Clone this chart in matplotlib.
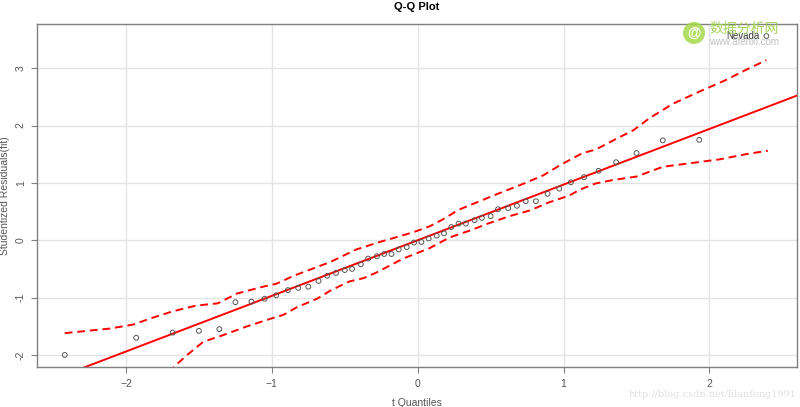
import numpy as np
import matplotlib.pyplot as plt
from matplotlib.patches import Ellipse

# t quantiles (x) and studentized residuals (y)
t_quant = [-2.42, -1.93, -1.68, -1.50, -1.36, -1.25, -1.14, -1.05, -0.97, -0.89,
           -0.82, -0.75, -0.68, -0.62, -0.56, -0.50, -0.45, -0.39, -0.34, -0.28,
           -0.23, -0.18, -0.13, -0.075, -0.025, 0.025, 0.075, 0.13, 0.18, 0.23,
           0.28, 0.33, 0.39, 0.44, 0.50, 0.55, 0.62, 0.68, 0.74, 0.81,
           0.89, 0.97, 1.05, 1.14, 1.24, 1.36, 1.50, 1.68, 1.93, 2.39]
stud_res = [-2.00, -1.70, -1.61, -1.58, -1.55, -1.08, -1.07, -1.02, -0.96, -0.87,
            -0.83, -0.81, -0.71, -0.62, -0.57, -0.52, -0.50, -0.42, -0.32, -0.28,
            -0.24, -0.24, -0.16, -0.12, -0.04, -0.03, 0.03, 0.08, 0.12, 0.23,
            0.29, 0.29, 0.35, 0.39, 0.42, 0.54, 0.56, 0.60, 0.68, 0.68,
            0.81, 0.90, 1.01, 1.10, 1.21, 1.36, 1.52, 1.74, 1.75, 3.56]

# simulated confidence envelope
upper_x = [-2.42, -2.11, -1.95, -1.84, -1.68, -1.52, -1.37, -1.24, -1.06, -0.97,
           -0.85, -0.60, -0.42, -0.26, -0.15, -0.03, 0.08, 0.17, 0.28, 0.54,
           0.72, 0.86, 0.97, 1.13, 1.22, 1.34, 1.48, 1.59, 1.75, 1.93,
           2.11, 2.25, 2.39]
upper_y = [-1.62, -1.54, -1.47, -1.37, -1.24, -1.14, -1.10, -0.93, -0.81, -0.76,
           -0.62, -0.38, -0.16, -0.03, 0.05, 0.14, 0.24, 0.36, 0.53, 0.80,
           0.98, 1.13, 1.30, 1.52, 1.58, 1.74, 1.92, 2.13, 2.38, 2.59,
           2.79, 2.97, 3.14]
lower_x = [-1.93, -1.68, -1.59, -1.47, -1.34, -1.18, -1.01, -0.92, -0.83, -0.69,
           -0.60, -0.47, -0.37, -0.28, -0.10, 0.08, 0.22, 0.36, 0.47, 0.63,
           0.77, 0.90, 1.04, 1.11, 1.22, 1.34, 1.50, 1.68, 1.86, 2.07,
           2.25, 2.40]
lower_y = [-2.65, -2.23, -2.02, -1.77, -1.66, -1.51, -1.37, -1.30, -1.17, -1.02,
           -0.88, -0.72, -0.66, -0.56, -0.32, -0.14, 0.05, 0.17, 0.28, 0.42,
           0.52, 0.66, 0.78, 0.88, 0.99, 1.05, 1.11, 1.28, 1.34, 1.41,
           1.50, 1.56]

# reference line
line_intercept = 0.0
line_slope = 0.97

x_ticks = [-2, -1, 0, 1, 2]
y_ticks = [-2, -1, 0, 1, 2, 3]

plt.rcParams['font.family'] = ['Liberation Sans', 'DejaVu Sans']

fig = plt.figure(figsize=(8.0, 4.07), dpi=100)
ax = fig.add_axes([0.04625, 0.0983, 0.95, 0.8428])

xlim = (-2.61, 2.60)
ylim = (-2.21, 3.77)

for xt in x_ticks:
    ax.axvline(xt, color='#e6e2ea', lw=1.0, zorder=0)
for yt in y_ticks:
    ax.axhline(yt, color='#e4e4e4', lw=1.0, zorder=0)

xs = np.array(xlim)
ax.plot(xs, line_intercept + line_slope * xs, color='#ff0000', lw=1.4, zorder=2)
ax.plot(upper_x, upper_y, color='#ff0000', lw=1.4, ls=(0, (4, 2.5)), zorder=2)
ax.plot(lower_x, lower_y, color='#ff0000', lw=1.4, ls=(0, (4, 2.5)), zorder=2)

ax.scatter(t_quant, stud_res, s=12, facecolors='none', edgecolors='#555555',
           linewidths=0.7, zorder=3)
ax.text(t_quant[-1] - 0.05, stud_res[-1], 'Nevada', ha='right', va='center',
        fontsize=7, color='#333333', zorder=4)

ax.set_xlim(*xlim)
ax.set_ylim(*ylim)
ax.set_xticks(x_ticks)
ax.set_yticks(y_ticks)
ax.set_yticklabels([str(v) for v in y_ticks], rotation=90, va='center')
ax.tick_params(axis='both', colors='#808080', labelcolor='#555555', labelsize=7.5,
               length=4, width=0.8)
ax.tick_params(axis='x', pad=5)
ax.tick_params(axis='y', pad=4)
for sp in ax.spines.values():
    sp.set_color('#808080')
    sp.set_linewidth(1.0)

ax.set_xlabel('t Quantiles', fontsize=7.5, color='#555555', labelpad=6)
ax.set_ylabel('Studentized Residuals(fit)', fontsize=7.5, color='#555555', labelpad=4)
ax.set_title('Q-Q Plot', fontsize=8, fontweight='bold', pad=10)

# watermarks
fig.patches.append(Ellipse((0.8675, 0.919), 22 / 800, 22 / 407,
                           transform=fig.transFigure, facecolor='#a6d94a',
                           edgecolor='none', alpha=0.85, zorder=5))
fig.text(0.8675, 0.919, '@', fontsize=10, color='white', fontweight='bold',
         ha='center', va='center', zorder=6)
fig.text(0.93, 0.929, '数据分析网', fontsize=10, color='#9bd04a',
         family=['Noto Sans CJK SC', 'DejaVu Sans'], ha='center', va='center',
         alpha=0.9)
fig.text(0.93, 0.897, 'www.afenxi.com', fontsize=7, color='#c0c0c0',
         ha='center', va='center')
fig.text(0.995, 0.03, 'http://blog.csdn.net/lilanfeng1991', fontsize=7,
         color='#e0e0e0', family='DejaVu Serif', ha='right', va='center')

fig.savefig('out.png', dpi=100)
